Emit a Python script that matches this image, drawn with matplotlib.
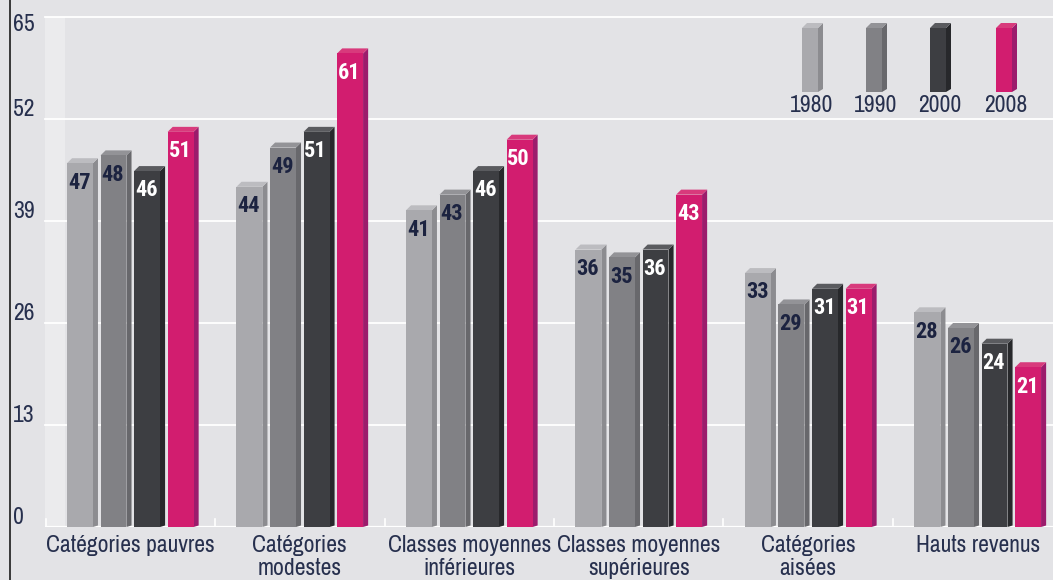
import matplotlib
matplotlib.use("Agg")
import matplotlib.pyplot as plt
import matplotlib.transforms as mtransforms
from matplotlib.patches import Polygon, Rectangle
import logging
logging.getLogger("matplotlib.font_manager").setLevel(logging.ERROR)

# ---- data ----
categories = ["Catégories pauvres", "Catégories\nmodestes", "Classes moyennes\ninférieures",
              "Classes moyennes\nsupérieures", "Catégories\naisées", "Hauts revenus"]
years = ["1980", "1990", "2000", "2008"]
v1980 = [47, 44, 41, 36, 33, 28]
v1990 = [48, 49, 43, 35, 29, 26]
v2000 = [46, 51, 46, 36, 31, 24]
v2008 = [51, 61, 50, 43, 31, 21]
yticks = [0, 13, 26, 39, 52, 65]

series = [v1980, v1990, v2000, v2008]
front = ["#a9a9ad", "#818185", "#3d3e42", "#d21d6f"]
side = ["#8c8c90", "#68686c", "#27282b", "#9c1c6c"]
top = ["#bcbcc0", "#939397", "#5a5b5f", "#d83a7c"]
txtcol = ["#1c2340", "#1c2340", "white", "white"]
navy = "#27304e"
bg = "#e3e3e6"

FONT = ["Arial Narrow", "Archivo Narrow", "Roboto Condensed", "PT Sans Narrow",
        "IBM Plex Sans Condensed", "DejaVu Sans"]
BOLDFONT = ["Roboto Condensed", "IBM Plex Sans Condensed", "Archivo Narrow", "DejaVu Sans"]
plt.rcParams["font.family"] = FONT

W, H = 1053, 580
fig = plt.figure(figsize=(W / 100, H / 100), dpi=100, facecolor=bg)
ax = fig.add_axes([45 / W, 53 / H, 1008 / W, 510 / H])
ax.set_facecolor(bg)
ax.set_xlim(-0.503, 5.444)
ax.set_ylim(0, 65)
for s in ax.spines.values():
    s.set_visible(False)
ax.set_yticks([])
ax.tick_params(axis="x", length=0, pad=6)
ax.set_xticks(range(len(categories)))
ax.set_xticklabels(categories, fontsize=17, color=navy, linespacing=1.1, va="top")

# left side wall strip
ax.add_patch(Rectangle((-0.503, 0), 0.118, 65, facecolor="#ebebed", edgecolor="none", zorder=0))

# gridlines
for v in yticks[1:]:
    ax.axhline(v, color="white", lw=1.3, zorder=1, clip_on=False)
ax.axhline(0, color="white", lw=1.6, zorder=1)
for b in range(len(categories)):
    ax.plot([b - 0.5, b - 0.5], [0, 1.0], color="white", lw=1.2, zorder=1)

pitch = 0.198
w = 0.153
dx = 0.03
dy = 0.64
for k, vals in enumerate(series):
    for i, v in enumerate(vals):
        xc = i + (k - 1.5) * pitch
        x0 = xc - w / 2
        x1 = xc + w / 2
        hf = v - dy
        ax.add_patch(Polygon([(x1, 0), (x1 + dx, dy * 0.3), (x1 + dx, v), (x1, hf)],
                             closed=True, facecolor=side[k], edgecolor="none", zorder=3))
        ax.add_patch(Polygon([(x0, hf), (x0 + dx, v), (x1 + dx, v), (x1, hf)],
                             closed=True, facecolor=top[k], edgecolor="none", zorder=3))
        ax.add_patch(Rectangle((x0, 0), w, hf, facecolor=front[k], edgecolor="none", zorder=4))
        ax.text(xc - 0.005, v - 3.1, str(v), ha="center", va="center", fontsize=16,
                fontweight="bold", family=BOLDFONT, color=txtcol[k], zorder=5)

# overlay in pixel coordinates for frame, y labels and legend
ov = fig.add_axes([0, 0, 1, 1], zorder=10)
ov.set_xlim(0, W)
ov.set_ylim(H, 0)
ov.axis("off")
ov.patch.set_visible(False)
ov.plot([10, 10], [0, H], color="#2a2a2a", lw=1.3)

trans = mtransforms.blended_transform_factory(ov.transData, ax.transData)
for v in yticks:
    ov.text(13, min(v + 1.15, 64.0), str(v), transform=trans, ha="left", va="center",
            fontsize=17, color=navy)

# legend
leg_x = [802, 866, 930, 996]
lw_, ld, ltop, lbot = 16, 5, 23, 92
for k, yr in enumerate(years):
    x0 = leg_x[k]
    ov.add_patch(Polygon([(x0 + lw_, lbot), (x0 + lw_ + ld, lbot - 3), (x0 + lw_ + ld, ltop),
                          (x0 + lw_, ltop + ld)], closed=True, facecolor=side[k], edgecolor="none"))
    ov.add_patch(Polygon([(x0, ltop + ld), (x0 + ld, ltop), (x0 + lw_ + ld, ltop), (x0 + lw_, ltop + ld)],
                         closed=True, facecolor=top[k], edgecolor="none"))
    ov.add_patch(Rectangle((x0, ltop + ld), lw_, lbot - ltop - ld, facecolor=front[k], edgecolor="none"))
    ov.text(x0 + lw_ / 2 + 2, 106, yr, ha="center", va="center", fontsize=17, color=navy)

fig.savefig("out.png", dpi=100, facecolor=bg)
